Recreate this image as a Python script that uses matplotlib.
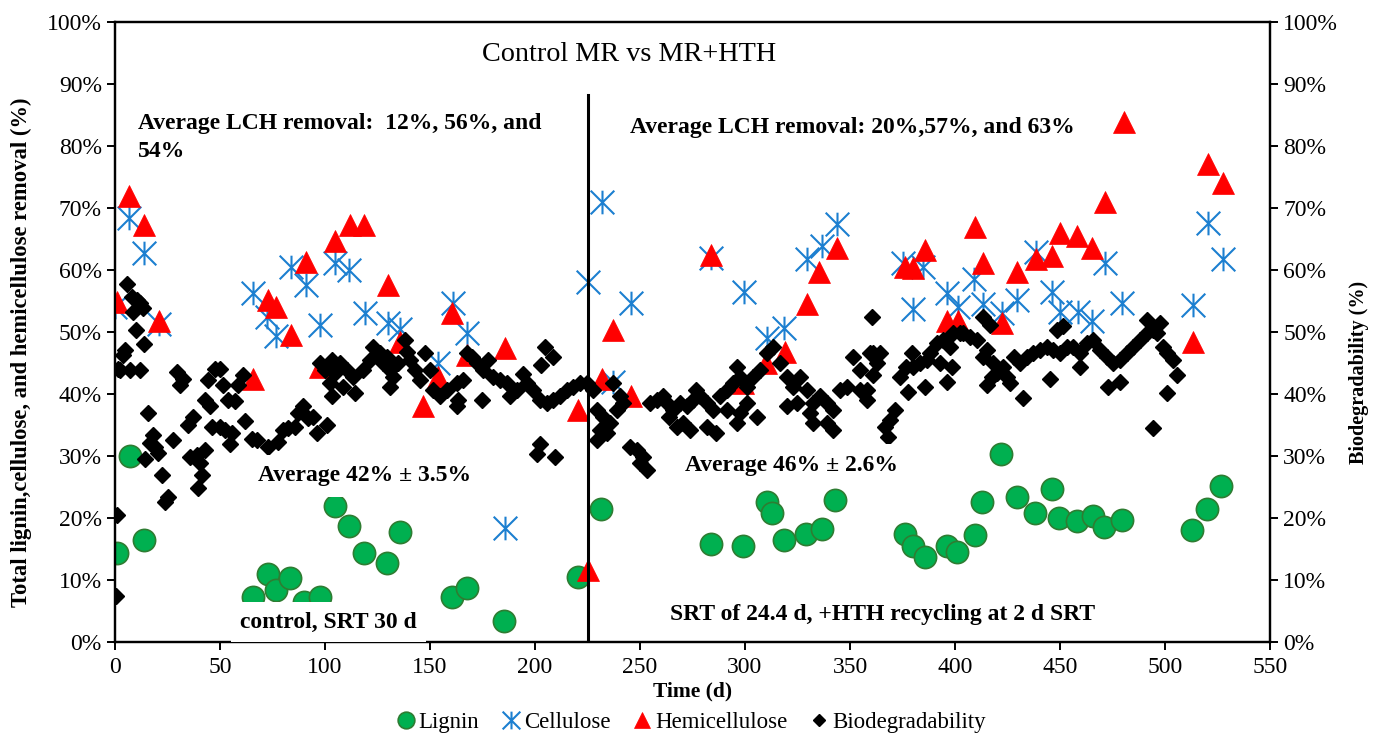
import matplotlib
matplotlib.use("Agg")
import matplotlib.pyplot as plt
from matplotlib.path import Path
from matplotlib.ticker import PercentFormatter, MultipleLocator

plt.rcParams['font.family'] = ['Liberation Serif', 'DejaVu Serif']

# ---------------- data ----------------
lignin_day = [1, 7, 14, 65.6, 73, 76.7, 83.3, 90, 97.6, 104.8, 111.4, 118.6, 129.5, 135.7,
              160.5, 167.6, 185.2, 220.5, 231.4, 284, 299, 310.5, 313, 318.6, 329, 336.7,
              343, 376, 380, 385.7, 396, 401, 409.5, 413, 422, 429.5, 438, 446, 449.5,
              458, 465.7, 471, 479.5, 513, 520, 526.7]
lignin_val = [14.3, 30, 16.5, 7.3, 11, 8.4, 10.4, 6.5, 7.3, 22, 18.7, 14.3, 12.7, 17.7,
              7.3, 8.7, 3.4, 10.5, 21.4, 15.8, 15.5, 22.6, 20.8, 16.5, 17.4, 18.2,
              22.9, 17.4, 15.5, 13.7, 15.5, 14.5, 17.3, 22.6, 30.3, 23.4, 20.8, 24.7, 20,
              19.5, 20.3, 18.5, 19.7, 18, 21.4, 25.2]

cell_day = [0, 6.7, 13.8, 21, 65.5, 72.2, 76.7, 83.7, 90.8, 97.6, 104.8, 111.4, 119, 129.8,
            135.7, 153.8, 160.8, 167.6, 185.7, 225.3, 231.7, 237, 245.5, 283.7, 299.5,
            310.3, 318.6, 329.4, 336.5, 343.7, 375.4, 380.1, 384.9, 396.3, 401.6, 409.2,
            413.5, 422.5, 429.4, 438.4, 446.3, 450, 458.4, 465.4, 471.4, 479.5, 513.2,
            520.3, 527.5]
cell_val = [54, 68.4, 62.7, 51.3, 56.3, 52.5, 49.3, 60.5, 57.6, 51.1, 61.1, 60, 53, 51.4,
            50.5, 45, 54.7, 49.8, 18.4, 58.1, 70.9, 42, 54.7, 61.9, 56.5,
            49, 50.6, 61.8, 63.9, 67.4, 61.1, 53.7, 60.5, 56.3, 54.1, 58.5,
            54.5, 53, 55.2, 62.9, 56.5, 53.3, 53.3, 51.7, 61.2, 54.7, 54.4,
            67.6, 61.7]

hemi_day = [0.8, 6.8, 13.8, 21, 65.9, 73, 76.7, 83.7, 91, 97.6, 104.8, 111.9, 118.7, 129.8,
            135.7, 146.5, 154, 160.6, 167.5, 185.7, 220.6, 225.2, 231.7, 237.3, 245.6,
            283.7, 299.2, 310, 319, 329.4, 335.4, 343.7, 376.2, 380.1, 385.7, 396.3,
            401.3, 409.5, 413.5, 422.5, 429.4, 438.4, 446.3, 450, 458.2, 465.4, 471.4,
            480.5, 513.5, 520.3, 527.5]
hemi_val = [54.9, 71.9, 67.3, 51.8, 42.5, 55.2, 54.1, 49.5, 61.3, 44.4, 64.7, 67.3, 67.3, 57.6,
            48.4, 38.1, 42.8, 53.1, 46.3, 47.4, 37.4, 11.6, 42.5, 50.4, 39.6,
            62.4, 41.7, 45, 46.8, 54.5, 59.6, 63.6, 60.5, 60.3, 63.2, 51.8,
            51.7, 67, 61.1, 51.4, 59.7, 61.7, 62.2, 65.9, 65.5, 63.6, 71,
            83.9, 48.4, 77.1, 74]

bio_day = [0.5, 1, 1.4, 2.5, 4, 4.8, 5.6, 7.3, 7.9, 8.6, 9.8, 10.3, 11.9, 12, 13.3, 13.9,
           14.3, 15.6, 16.7, 18.2, 19, 20.6, 22.2, 23.8, 25.4, 27.8, 29.4, 31, 32.5, 34.9,
           35.7, 37.2, 38.9, 39.7, 40.5, 41.6, 42.9, 42.9, 44.4, 45.2, 46, 47.6, 50, 50,
           51.6, 52.4, 54, 54.8, 55.6, 57, 58.7, 61, 61.9, 65.1, 67.5, 73, 77.8, 80.1,
           82.5, 85.7, 87.3, 89.7, 92, 94.4, 96, 97.6, 100, 100.8, 102.4, 103.2, 103.2,
           104.8, 106.3, 107.1, 108.7, 110.3, 113.5, 114.3, 118.3, 121.4, 123, 126.2,
           127.8, 129.4, 131, 131, 132.5, 134.9, 138.1, 138.9, 140.5, 142.9, 145.2, 147.6,
           150, 151.6, 154.8, 157.9, 162.7, 162.7, 163.5, 165.9, 167.5, 169.8, 172.2,
           174.6, 175.4, 177.8, 180.2, 183.3, 186.5, 188.1, 191.3, 194.4, 196, 199.2,
           200.8, 202.4, 202.4, 202.8, 204.8, 205.6, 208.7, 208.7, 209.5, 211.9, 215.1,
           218.3, 221.4, 224.6, 227.8, 229.4, 229.4, 231, 232.5, 234.1, 235.7, 237.3,
           238.9, 240.5, 242.1, 245.2, 248.4, 250, 251.6, 253.2, 254.8, 257.9, 261.1,
           262.7, 264, 265.9, 267.5, 269, 270.6, 272.2, 273.8, 275.4, 276.9, 278.6, 281.7,
           281.7, 284.9, 286.4, 288.1, 291.3, 291.3, 294.4, 296, 296, 297.6, 297.6, 300.8,
           300.8, 304, 305.5, 307.1, 310.3, 313.5, 316.7, 319.8, 319.8, 323, 324.6, 326.2,
           329.4, 330.9, 332.5, 332.5, 335.7, 338.9, 338.9, 342.1, 342.1, 343, 345.2,
           348.4, 351.6, 354.8, 354.8, 357.9, 357.9, 359.5, 360.3, 361.1, 361.1, 362.7,
           364.3, 366.7, 368.3, 369, 371.4, 373.8, 376.9, 377.8, 379.4, 380.1, 383.3,
           385.7, 386.5, 388.1, 391.3, 392.9, 394.4, 396, 397.6, 398.4, 399.2, 402.4, 404,
           407.1, 410.3, 413.5, 413.5, 415, 415, 416.7, 417.5, 418.3, 419.8, 423, 424.6,
           426.2, 428, 431, 432.5, 434.1, 437.3, 440.5, 443.7, 445.2, 446.8, 448.4, 450,
           451.6, 453.2, 456.3, 459.5, 459.5, 462.7, 465.9, 469, 472.2, 473, 475.4, 478.6,
           478.6, 481.7, 484.9, 488.1, 491.3, 491.3, 494.4, 494.4, 496, 497.6, 499.2,
           500.8, 500.8, 504, 505.6]
bio_val = [7.5, 20.5, 44, 43.9, 46.3, 47.1, 57.8, 43.9, 55.7, 53.3, 50.3, 55.2, 54.7, 43.9, 53.9, 48.1,
           29.5, 36.9, 32.1, 33.4, 31.5, 30.5, 26.9, 22.6, 23.4, 32.6, 43.6, 41.5, 42.5, 35,
           29.9, 36.3, 30.2, 24.8, 28.8, 26.9, 31, 39, 42.3, 38, 34.7, 44.1, 44.1, 34.7,
           41.5, 34.2, 39, 32, 33.7, 38.8, 41.5, 43.1, 35.6, 32.8, 32.6, 31.5, 32.3, 34.2,
           34.5, 34.7, 36.9, 38, 36.1, 36.3, 33.7, 45, 43.9, 35, 41.7, 45.5, 39.6,
           43.4, 44.4, 45, 41.2, 43.9, 42.8, 40.1, 43.9, 45.5, 47.6, 46.6,
           45, 46, 43.9, 41.2, 42.8, 45, 48.7, 46.8, 45.5, 43.9, 42.3, 46.6,
           43.9, 40.6, 39.6, 40.6, 41.7, 38, 39, 42.3, 46.6, 46, 45,
           39, 43.9, 45.5, 42.8, 42.3, 41.7, 39.6, 40.6, 43.3, 41.7, 40.6,
           30.4, 39, 32, 44.7, 47.6, 38.5, 39, 46, 29.9, 39.6, 40.6,
           41.2, 41.7, 41.7, 40.6, 37.4, 32.6, 34.2, 36.3, 33.7, 35.3, 41.7,
           37.4, 39.6, 38.5, 31.5, 31, 28.8, 29.9, 27.7, 38.5, 39, 39.6,
           38.5, 36.3, 37.4, 34.7, 38.5, 35.3, 38, 34.2, 39, 40.6, 39.6, 38.5,
           34.7, 37.4, 33.7, 39.6, 40.6, 37.4, 41.7, 44.4, 35.3, 42.8, 36.9, 41.2,
           38.5, 42.8, 36.3, 43.9, 46.6, 47.6, 45, 42.8, 38, 41.2, 38.5, 42.8,
           40.6, 36.9, 38.5, 35.3, 39.6, 38.5, 35.3, 37.4, 34.2, 30.5, 40.6,
           41.2, 46, 43.9, 40.6, 40.6, 39, 46.6, 52.5, 46.6, 43.1, 45,
           46.6, 34.7, 33.1, 35.8, 37.4, 42.8, 44.4, 40.4, 46.6, 44.4, 45,
           41.2, 45.5, 46.6, 48.2, 45, 48.7, 42, 47.6, 44.4, 49.8, 49.8, 49.8,
           49.2, 48.7, 52.5, 46, 47.1, 41.5, 51.1, 42.8, 45, 43.4, 44.4, 42.8,
           41.7, 46, 45, 39.3, 46, 46.6, 47.1, 47.6, 42.5, 47.1, 50.3, 46.6,
           50.9, 47.6, 47.6, 46.6, 44.4, 48.2, 48.7, 47.1, 46, 41.2, 45, 45.5,
           42, 46.6, 47.6, 48.7, 49.8, 51.9, 50.3, 34.5, 49.8, 51.4, 47.6,
           46.6, 40.1, 45.5, 43.1]

divider_day = 225
divider_top = 88.3

x_ticks = list(range(0, 551, 50))

# ---------------- figure ----------------
fig = plt.figure(figsize=(13.75, 7.35), dpi=100)
ax = fig.add_axes([115/1375, 1-642/735, (1270-115)/1375, (642-22)/735])
ax2 = ax.twinx()

star = Path([(-1, -1), (1, 1), (-1, 1), (1, -1), (0, -1), (0, 1)],
            [Path.MOVETO, Path.LINETO] * 3)

ax.plot(lignin_day, lignin_val, ls='none', marker='o', ms=16, mfc='#00B050',
        mec='#2E7D32', mew=1.2, label='Lignin', zorder=2)
ax.plot(cell_day, cell_val, ls='none', marker=star, ms=17, mfc='none',
        mec='#1C7FD0', mew=1.5, label='Cellulose', zorder=3)
ax.plot(hemi_day, hemi_val, ls='none', marker='^', ms=16, mfc='#FF0000',
        mec='#FF0000', mew=0.5, label='Hemicellulose', zorder=4)
ax.plot([divider_day, divider_day], [0, divider_top], color='black', lw=2.2, zorder=5)

ax2.plot(bio_day, bio_val, ls='none', marker='D', ms=8, mfc='black', mec='black',
         label='Biodegradability', zorder=3)

for a in (ax, ax2):
    a.set_ylim(0, 100)
    a.set_xlim(0, 550)
    a.yaxis.set_major_locator(MultipleLocator(10))
    a.yaxis.set_major_formatter(PercentFormatter(xmax=100, decimals=0))
    for s in a.spines.values():
        s.set_linewidth(1.6)
        s.set_color('black')

ax.set_xticks(x_ticks)
ax.tick_params(axis='both', direction='out', length=6, width=1.4, labelsize=17)
ax2.tick_params(axis='y', direction='out', length=6, width=1.4, labelsize=17)
ax.tick_params(axis='x', pad=5)

ax.set_xlabel('Time (d)', fontsize=15.5, fontweight='bold', labelpad=2)
ax.set_ylabel('Total lignin,cellulose, and hemicellulose removal (%)', fontsize=16.3,
              fontweight='bold')
ax.yaxis.set_label_coords(-0.072, 0.468)
ax2.set_ylabel('Biodegradability (%)', fontsize=14.5, fontweight='bold')
ax2.yaxis.set_label_coords(1.068, 0.435)

FS = 17
ax2.text(244.8, 94.7, 'Control MR vs MR+HTH', fontsize=20.3, ha='center', va='center', zorder=10)
ax2.text(11, 85.4, 'Average LCH removal:  12%, 56%, and\n54%', fontsize=FS,
         fontweight='bold', ha='left', va='top', linespacing=1.45, zorder=10)
ax2.text(245.2, 83, 'Average LCH removal: 20%,57%, and 63%', fontsize=FS,
         fontweight='bold', ha='left', va='center', zorder=10)
ax2.text(119, 26.8, 'Average 42% ± 3.5%', fontsize=FS, fontweight='bold',
         ha='center', va='center', bbox=dict(facecolor='white', edgecolor='none',
                                              boxstyle='square,pad=0.45'), zorder=10)
ax2.text(322, 28.5, 'Average 46% ± 2.6%', fontsize=FS, fontweight='bold',
         ha='center', va='center', bbox=dict(facecolor='white', edgecolor='none',
                                              boxstyle='square,pad=0.45'), zorder=10)
ax2.text(101.7, 3.2, 'control, SRT 30 d', fontsize=FS, fontweight='bold',
         ha='center', va='center', bbox=dict(facecolor='white', edgecolor='none',
                                              boxstyle='square,pad=0.4'), zorder=10)
ax2.text(365.5, 4.4, 'SRT of 24.4 d, +HTH recycling at 2 d SRT', fontsize=FS,
         fontweight='bold', ha='center', va='center',
         bbox=dict(facecolor='white', edgecolor='none', boxstyle='square,pad=0.25'), zorder=10)

h1, l1 = ax.get_legend_handles_labels()
h2, l2 = ax2.get_legend_handles_labels()
leg = fig.legend(h1 + h2, l1 + l2, loc='center', bbox_to_anchor=(690/1375, 1-722/735),
                 ncol=4, frameon=False, fontsize=16.5, handletextpad=0.05,
                 columnspacing=0.9, handlelength=1.0, markerscale=0.75)

fig.savefig('out.png', dpi=100)
